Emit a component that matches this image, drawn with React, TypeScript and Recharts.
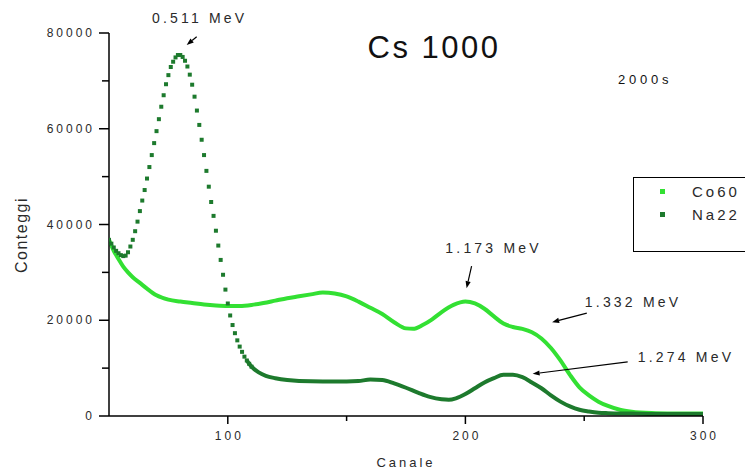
import React from 'react';
import { ComposedChart, Line, XAxis, YAxis, Legend, ReferenceLine, Label } from 'recharts';

const FONT = '"Liberation Sans", Arial, sans-serif';
const CO_COLOR = '#33e033';
const NA_COLOR = '#1d7a2d';
const INK = '#2a2a2a';

// ---- data ----
const seriesNames = ['Co60', 'Na22'];

const coChannels = [50, 52, 54, 56, 58, 60, 63, 66, 70, 75, 80, 85, 90, 95, 100, 105, 110, 115, 120, 125, 130, 135, 140, 145, 150, 155, 160, 165, 170, 175, 178, 182, 186, 190, 195, 200, 204, 208, 212, 216, 220, 224, 228, 232, 236, 240, 244, 248, 252, 256, 260, 265, 270, 280, 290, 300];
const coCounts = [36800, 34500, 32800, 31200, 30000, 29000, 27800, 26600, 25200, 24300, 23900, 23600, 23300, 23100, 23000, 23000, 23200, 23600, 24100, 24600, 25000, 25400, 25800, 25600, 25000, 23900, 22600, 21300, 19600, 18300, 18200, 19000, 20200, 21700, 23200, 23900, 23500, 22400, 20800, 19300, 18600, 18200, 17500, 16200, 14200, 11600, 8600, 6000, 4300, 3000, 2100, 1300, 900, 600, 500, 500];

const naChannels = [
  50, 51, 52, 53, 54, 55, 56, 57, 58, 59,
  60, 61, 62, 63, 64, 65, 66, 67, 68, 69,
  70, 71, 72, 73, 74, 75, 76, 77, 78, 79,
  80, 81, 82, 83, 84, 85, 86, 87, 88, 89,
  90, 91, 92, 93, 94, 95, 96, 97, 98, 99,
  100, 101, 102, 103, 104, 105, 106, 107, 108, 109, 110,
  113, 116, 120, 125, 130, 140, 150, 155, 160, 165, 170, 175, 180, 185, 190, 193, 196, 200, 204, 208, 212, 216, 220, 224, 228, 232, 236, 240, 244, 248, 252, 256, 260, 270, 280, 300,
];
const naCounts = [
  36800, 36000, 35200, 34500, 34000, 33600, 33400, 33500, 34200, 35400,
  36800, 38600, 40600, 42800, 45000, 47200, 49600, 52000, 54500, 57000,
  59500, 62000, 64600, 67000, 69300, 71200, 72900, 74000, 74900, 75400,
  75400, 75000, 74200, 73000, 71300, 69200, 66700, 63800, 60800, 57700,
  54500, 51200, 47900, 44700, 41800, 38700, 35600, 32600, 29500, 26400,
  23500, 21000, 19000, 17300, 15800, 14500, 13400, 12400, 11600, 10900, 10300,
  9100, 8400, 7900, 7500, 7300, 7200, 7200, 7300, 7600, 7500, 6800, 5900, 4900, 4000, 3500, 3400, 3700, 4600, 5800, 7000, 7900, 8600, 8600, 8100, 7000, 5800, 4300, 3000, 2000, 1300, 950, 700, 600, 500, 400, 400,
];

const xTicks = [100, 150, 200, 250, 300];
const xTickLabels = ['100', '', '200', '', '300'];
const yTicks = [0, 10000, 20000, 30000, 40000, 50000, 60000, 70000, 80000];
const yTickLabels = ['0', '', '20000', '', '40000', '', '60000', '', '80000'];

const peakLabels = ['0.511 MeV', '1.173 MeV', '1.332 MeV', '1.274 MeV'];
const arrowTails = [[86.9, 79200], [202.6, 31300], [251.1, 21500], [268.3, 11300]];
const arrowHeads = [[82.7, 77500], [200.5, 26700], [236.5, 19600], [228.3, 8800]];

// ---- styling for annotations (pixel offsets of the text from the arrow tail) ----
const labelOffsets = [
  { dx: 3, dy: -19, anchor: 'middle' },
  { dx: 22, dy: -18, anchor: 'middle' },
  { dx: -2, dy: -11, anchor: 'start' },
  { dx: 10, dy: -5, anchor: 'start' },
];

const coData = coChannels.map((c, i) => ({ c, v: coCounts[i] }));
const naAll = naChannels.map((c, i) => ({ c, v: naCounts[i] }));
const naDots = naAll.filter((d) => d.c <= 110);
const naLine = naAll.filter((d) => d.c >= 108);

function XTick(props: any) {
  const { x, y, payload } = props;
  const i = xTicks.indexOf(payload.value);
  const label = i >= 0 ? xTickLabels[i] : '';
  const major = label !== '';
  return (
    <g>
      <line x1={x} x2={x} y1={y} y2={y + (major ? 8 : 5)} stroke="#000" strokeWidth={1.5} />
      {major && (
        <text x={x + 1.5} y={y + 24} textAnchor="middle" fontSize={12} letterSpacing={3} fill={INK} fontFamily={FONT}>
          {label}
        </text>
      )}
    </g>
  );
}

function YTick(props: any) {
  const { x, y, payload } = props;
  const i = yTicks.indexOf(payload.value);
  const label = i >= 0 ? yTickLabels[i] : '';
  const major = label !== '';
  return (
    <g>
      <line x1={x} x2={x - (major ? 10 : 7)} y1={y} y2={y} stroke="#000" strokeWidth={1.5} />
      {major && (
        <text x={x - 14} y={y + 4} textAnchor="end" fontSize={12} letterSpacing={3} fill={INK} fontFamily={FONT}>
          {label}
        </text>
      )}
    </g>
  );
}

function SquareDot(props: any) {
  const { cx, cy } = props;
  if (cx == null || cy == null) return null;
  return <rect x={cx - 2} y={cy - 2} width={4} height={4} fill={NA_COLOR} />;
}

function makeArrow(idx: number) {
  return (p: any) => {
    const { x1, y1, x2, y2 } = p;
    const ang = Math.atan2(y2 - y1, x2 - x1);
    const L = 7;
    const W = 2.6;
    const bx = x2 - L * Math.cos(ang);
    const by = y2 - L * Math.sin(ang);
    const px = -Math.sin(ang) * W;
    const py = Math.cos(ang) * W;
    const o = labelOffsets[idx];
    return (
      <g>
        <line x1={x1} y1={y1} x2={bx} y2={by} stroke="#000" strokeWidth={1.2} />
        <polygon points={`${x2},${y2} ${bx + px},${by + py} ${bx - px},${by - py}`} fill="#000" />
        <text
          x={x1 + o.dx}
          y={y1 + o.dy + 5}
          textAnchor={o.anchor as any}
          fontSize={14}
          letterSpacing={3.2}
          fill={INK}
          fontFamily={FONT}
        >
          {peakLabels[idx]}
        </text>
      </g>
    );
  };
}

function LegendBox() {
  const colors = [CO_COLOR, NA_COLOR];
  return (
    <div
      style={{
        position: 'relative',
        width: 112,
        height: 75,
        borderTop: '1.5px solid #000',
        borderLeft: '1.5px solid #000',
        borderBottom: '1.5px solid #000',
        boxSizing: 'border-box',
        background: '#fff',
        fontFamily: FONT,
      }}
    >
      {seriesNames.map((n, i) => (
        <div key={n} style={{ position: 'absolute', left: 0, top: 4 + i * 23, height: 20, width: 112 }}>
          <div style={{ position: 'absolute', left: 26, top: 7, width: 5, height: 5, background: colors[i] }} />
          <div style={{ position: 'absolute', left: 58, top: 0, fontSize: 15, letterSpacing: 3, color: INK, lineHeight: '20px', whiteSpace: 'nowrap' }}>{n}</div>
        </div>
      ))}
    </div>
  );
}

export default function App() {
  return (
    <div style={{ position: 'absolute', left: 0, top: 0, width: 745, height: 473, background: '#fff', overflow: 'hidden' }}>
      <ComposedChart width={745} height={473} margin={{ top: 33, right: 42, bottom: 0, left: 0 }}>
        <XAxis
          dataKey="c"
          type="number"
          domain={[50, 300]}
          ticks={xTicks}
          tick={<XTick />}
          tickSize={0}
          tickMargin={0}
          tickLine={false}
          height={57}
          axisLine={{ stroke: '#000', strokeWidth: 1.5 }}
          allowDataOverflow
        >
          <Label
            content={(p: any) => {
              const vb = p.viewBox || { x: 109, y: 416, width: 594, height: 57 };
              return (
                <text x={vb.x + vb.width / 2} y={vb.y + 51} textAnchor="middle" fontSize={13} letterSpacing={3} fill={INK} fontFamily={FONT}>
                  Canale
                </text>
              );
            }}
          />
        </XAxis>
        <YAxis
          type="number"
          domain={[0, 80000]}
          ticks={yTicks}
          tick={<YTick />}
          tickSize={0}
          tickMargin={0}
          tickLine={false}
          width={109}
          axisLine={{ stroke: '#000', strokeWidth: 1.5 }}
          allowDataOverflow
        >
          <Label
            content={() => (
              <text
                x={27}
                y={235}
                transform="rotate(-90 27 235)"
                textAnchor="middle"
                fontSize={16}
                letterSpacing={1.5}
                fill={INK}
                fontFamily={FONT}
              >
                Conteggi
              </text>
            )}
          />
        </YAxis>
        <Line
          data={coData}
          dataKey="v"
          name={seriesNames[0]}
          type="monotone"
          stroke={CO_COLOR}
          strokeWidth={4}
          dot={false}
          isAnimationActive={false}
        />
        <Line
          data={naLine}
          dataKey="v"
          name={seriesNames[1]}
          type="monotone"
          stroke={NA_COLOR}
          strokeWidth={4}
          dot={false}
          isAnimationActive={false}
        />
        <Line
          data={naDots}
          dataKey="v"
          name={seriesNames[1] + ' '}
          type="linear"
          stroke="none"
          dot={<SquareDot />}
          legendType="none"
          isAnimationActive={false}
        />
        {peakLabels.map((_, i) => (
          <ReferenceLine
            key={i}
            segment={[
              { x: arrowTails[i][0], y: arrowTails[i][1] },
              { x: arrowHeads[i][0], y: arrowHeads[i][1] },
            ]}
            ifOverflow="visible"
            shape={makeArrow(i)}
          />
        ))}
        <Legend
          layout="vertical"
          align="center"
          verticalAlign="middle"
          content={<LegendBox />}
          wrapperStyle={{ position: 'absolute', left: 633, top: 177, width: 112, height: 75 }}
        />
      </ComposedChart>
      <div
        style={{
          position: 'absolute',
          left: 334,
          top: 30,
          width: 200,
          textAlign: 'center',
          fontFamily: FONT,
          fontSize: 31,
          letterSpacing: 2.5,
          color: '#111',
          lineHeight: '36px',
        }}
      >
        Cs 1000
      </div>
      <div
        style={{
          position: 'absolute',
          left: 618,
          top: 72,
          fontFamily: FONT,
          fontSize: 13,
          letterSpacing: 3.8,
          color: '#111',
          lineHeight: '16px',
        }}
      >
        2000s
      </div>
    </div>
  );
}
